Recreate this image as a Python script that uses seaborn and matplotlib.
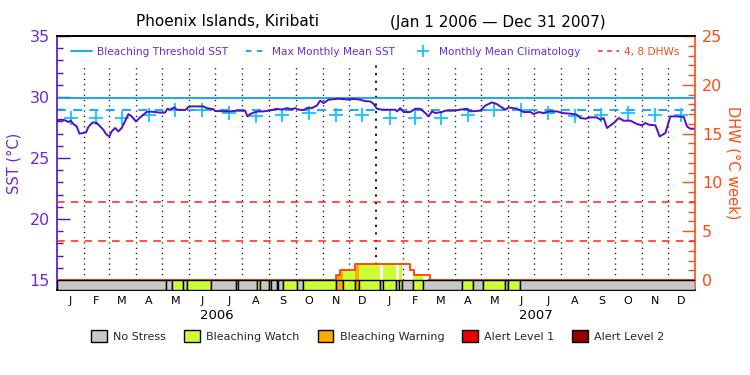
import numpy as np
import pandas as pd
import matplotlib
matplotlib.use("Agg")
import matplotlib.pyplot as plt
import seaborn as sns
from matplotlib.patches import Patch
from matplotlib.lines import Line2D
from matplotlib.ticker import FixedLocator

sns.set_style("white")
plt.rcParams["font.family"] = ["DejaVu Sans"]

# ---------------- data (days since 2006-01-01) ----------------
sst_day = [0, 5, 9, 13, 15.7, 18.7, 22.5, 25.6, 30, 33.2, 35.9, 40.8, 45.4, 49.2, 53, 56.1,
           59.9, 62.6, 66.4, 70.2, 74, 77.8, 81.7, 85.5, 90.4, 94.3, 98.8, 102.7, 108.4,
           117.9, 123.6, 126.3, 129.4, 134, 137, 146.6, 150.4, 154.2, 167.6, 171.4, 179,
           181, 198, 205.7, 215.2, 217.9, 221, 226.7, 230.5, 236.2, 242, 247.7, 251.5,
           257.2, 263, 268.7, 272.5, 276.3, 282, 285.8, 291.6, 297.3, 301.1, 305, 310.7,
           322.1, 331.6, 340, 346.9, 352.6, 358.4, 362.1, 366, 371.7, 387, 389, 392.7,
           396.5, 404.2, 409.9, 415.6, 421.4, 425.2, 429, 432.8, 440.4, 444.2, 453.8,
           461.4, 469, 472.9, 484.3, 490.1, 497.7, 503.4, 507.2, 513, 516.8, 526.3,
           533.9, 541.6, 545.4, 551.1, 556.8, 562.6, 572.1, 577.8, 587.4, 595, 598.8,
           604.5, 610.3, 617.9, 621.7, 625.5, 629.3, 637, 642.7, 648.4, 656.1, 663.7,
           669.4, 673.2, 677, 684.7, 689.6, 696.1, 701.8, 709.4, 717.1, 720.9, 724.7, 730]
sst_val = [28.1, 28.14, 28.1, 27.95, 28.06, 27.78, 27.6, 27.0, 27.05, 27.1, 27.55, 27.92,
           27.88, 27.6, 27.32, 26.96, 26.77, 27.18, 27.46, 27.18, 27.46, 28.0, 28.6, 28.41,
           28.0, 28.28, 28.55, 28.78, 28.8, 28.72, 28.72, 29.04, 28.96, 29.15, 28.96,
           28.93, 29.18, 29.23, 29.23, 29.09, 29.0, 28.85, 28.82, 28.88, 28.88, 28.41,
           28.6, 28.77, 28.82, 28.82, 28.88, 28.96, 29.04, 28.96, 29.09, 29.0, 29.09,
           28.96, 28.93, 29.09, 29.09, 29.3, 29.7, 29.5, 29.78, 29.86, 29.8, 29.84, 29.78,
           29.66, 29.64, 29.45, 29.04, 28.96, 28.96, 28.82, 29.09, 28.77, 28.77, 29.04,
           29.04, 28.69, 28.41, 28.82, 28.69, 28.77, 28.88, 28.88, 28.96, 29.04, 28.82,
           28.88, 29.3, 29.56, 29.42, 29.23, 28.96, 29.15, 29.04, 28.77, 28.77, 28.6,
           28.77, 28.69, 28.82, 28.82, 28.69, 28.63, 28.55, 28.28, 28.22, 28.33, 28.33,
           28.14, 28.28, 27.46, 27.87, 28.28, 28.06, 28.06, 27.78, 27.68, 27.87, 27.73,
           27.68, 26.77, 27.05, 28.41, 28.41, 28.36, 27.59, 27.4, 27.4]

clim_val = [28.28, 28.26, 28.24, 28.5, 28.9, 28.95, 28.72, 28.47, 28.56, 28.72, 28.5, 28.55,
            28.28, 28.26, 28.24, 28.5, 28.9, 28.95, 28.72, 28.47, 28.56, 28.72, 28.5, 28.55]

mmm_sst = 28.9
threshold_sst = 29.9
dhw_levels = [4, 8]

dhw_day = [0, 319.4, 324, 340.4, 404.2, 408, 426.3, 730]
dhw_val = [0, 0.55, 1.05, 1.6, 1.05, 0.55, 0, 0]

stress_start = [0, 125, 132, 144.6, 148.5, 176.3, 205, 207.2, 229.3, 232.4, 243, 245, 251.5,
                253.4, 258.4, 275.1, 281.3, 319.4, 327.8, 340.4, 345, 369.2, 372.9, 388.1,
                390.8, 394.7, 407.9, 418.7, 463.4, 475.5, 487.4, 512.1, 515.8, 529.3]
stress_end = stress_start[1:] + [730]
stress_level = [0, 0, 1, 0, 1, 0, 1, 0, 1, 0, 1, 0, 1, 0, 1, 0, 1, 2, 1, 2, 1, 0, 1, 0,
                1, 0, 1, 0, 1, 0, 1, 0, 1, 0]

month_letters = ["J", "F", "M", "A", "M", "J", "J", "A", "S", "O", "N", "D"] * 2
years = ["2006", "2007"]
stress_names = ["No Stress", "Bleaching Watch", "Bleaching Warning", "Alert Level 1", "Alert Level 2"]
stress_colors = ["#c8c8c8", "#ccff33", "#ffaa00", "#ee0000", "#960000"]

# ---------------- styling ----------------
PURPLE_LINE = "#5010c8"
PURPLE_TXT = "#6a2ad8"
ORANGE = "#ff4a10"
CYAN = "#0aa0f5"
CROSS = "#10c4ff"
RED = "#ff2020"

t0 = pd.Timestamp("2006-01-01")
mstart = pd.date_range("2006-01-01", "2008-01-01", freq="MS")
mday = np.array([(d - t0).days for d in mstart], dtype=float)
mmid = (mday[:-1] + mday[1:]) / 2.0

fig = plt.figure(figsize=(7.5, 3.75), dpi=100)
ax = fig.add_axes([57 / 750, 1 - 290 / 375, (695 - 57) / 750, (290 - 36) / 375])
ax2 = ax.twinx()

dlo = -1.02
ax.set_xlim(0, 730)
ax.set_ylim(15 + dlo / 1.25, 35)
ax2.set_ylim(dlo, 25)

# month dotted lines
for d in mday[1:-1]:
    if d == 365:
        ax.plot([d, d], [15, 32.6], color="black", lw=1.3, ls=(0, (1.2, 3.0)), zorder=1)
    else:
        ax.plot([d, d], [15, 32.6], color="black", lw=1.0, ls=(0, (0.8, 3.0)), zorder=1)

# reference lines
ax.axhline(threshold_sst, color=CYAN, lw=1.3, zorder=2)
ax.axhline(mmm_sst, color=CYAN, lw=1.3, ls=(0, (5, 4)), zorder=2)
for lv in dhw_levels:
    ax2.axhline(lv, color=RED, lw=1.1, ls=(0, (5, 4)), zorder=2)

# climatology crosses
sns.scatterplot(x=mmid, y=clim_val, ax=ax, marker="+", s=110, color=CROSS,
                linewidth=1.3, zorder=3, legend=False)
# SST line
sns.lineplot(x=sst_day, y=sst_val, ax=ax, color=PURPLE_LINE, lw=1.4, zorder=4,
             estimator=None, sort=False)

# DHW fill coloured by stress level
bps = sorted(set(dhw_day) | set(stress_start) | {730})
for a, b in zip(bps[:-1], bps[1:]):
    idx = np.searchsorted(dhw_day, a, side="right") - 1
    h = dhw_val[idx]
    sidx = np.searchsorted(stress_start, a, side="right") - 1
    lvl = stress_level[sidx]
    if h > 0 and lvl > 0:
        ax2.bar(a, h, width=b - a, bottom=0, align="edge", color=stress_colors[lvl],
                edgecolor="none", linewidth=0, zorder=2)
ax2.plot(dhw_day, dhw_val, drawstyle="steps-post", color=ORANGE, lw=1.4, zorder=3)

# stress bar
for s, e, l in zip(stress_start, stress_end, stress_level):
    ax2.bar(s, -dlo, width=e - s, bottom=dlo, align="edge", color=stress_colors[l],
            edgecolor="black", linewidth=1.0, zorder=5)

# spines
for a_ in (ax, ax2):
    a_.spines["top"].set_color("black")
    a_.spines["bottom"].set_color("black")
    a_.spines["left"].set_color(PURPLE_LINE)
    a_.spines["right"].set_color(ORANGE)
    for sp in a_.spines.values():
        sp.set_linewidth(1.2)
        sp.set_visible(True)
ax2.spines["left"].set_visible(False)
ax.spines["right"].set_visible(False)

# y ticks
ax.set_yticks([15, 20, 25, 30, 35])
ax.yaxis.set_minor_locator(FixedLocator(np.arange(15, 36, 1)))
ax.tick_params(axis="y", which="major", direction="in", length=9.5, width=1,
               color=PURPLE_LINE, labelcolor=PURPLE_TXT, labelsize=11.5, pad=5)
ax.tick_params(axis="y", which="minor", direction="in", length=4.3, width=1, color=PURPLE_LINE)
ax2.set_yticks([0, 5, 10, 15, 20, 25])
ax2.yaxis.set_minor_locator(FixedLocator(np.arange(0, 26, 1)))
ax2.tick_params(axis="y", which="major", direction="in", length=9.5, width=1,
                color=ORANGE, labelcolor=ORANGE, labelsize=11.5, pad=5)
ax2.tick_params(axis="y", which="minor", direction="in", length=4.8, width=1, color=ORANGE)

ax.set_ylabel("SST (°C)", color=PURPLE_TXT, fontsize=10.5, labelpad=6)
ax2.set_ylabel("DHW (°C week)", color=ORANGE, fontsize=10.5, rotation=-90, labelpad=13)

# x ticks: month letters
ax.set_xticks(mmid)
ax.set_xticklabels(month_letters)
ax.tick_params(axis="x", which="both", length=0, labelsize=8, pad=4, labelcolor="black")
ax.set_xlabel("")
for i, y in enumerate(years):
    ax.text(182.5 + 365 * i, -0.102, y, transform=ax.get_xaxis_transform(),
            ha="center", va="center", fontsize=9.5, color="black")

# title
fig.text(228 / 750, 1 - 22 / 375, "Phoenix Islands, Kiribati", ha="center", va="center",
         fontsize=11, color="black")
fig.text(498 / 750, 1 - 22 / 375, "(Jan 1 2006 \u2014 Dec 31 2007)", ha="center", va="center",
         fontsize=11, color="black")

# top legend
handles = [Line2D([], [], color=CYAN, lw=1.3),
           Line2D([], [], color=CYAN, lw=1.3, ls=(0, (3, 3))),
           Line2D([], [], color=CROSS, marker="+", ls="none", markersize=9, mew=1.3),
           Line2D([], [], color=RED, lw=1.1, ls=(0, (3, 3)))]
labels = ["Bleaching Threshold SST", "Max Monthly Mean SST", "Monthly Mean Climatology", "4, 8 DHWs"]
leg = ax2.legend(handles, labels, ncol=4, loc="center",
                 bbox_to_anchor=(375 / 750, 1 - 52 / 375), bbox_transform=fig.transFigure,
                 frameon=False, fontsize=7.6, handlelength=2.0, handletextpad=0.5,
                 columnspacing=1.65, borderpad=0)
for t, c in zip(leg.get_texts(), [PURPLE_TXT, PURPLE_TXT, PURPLE_TXT, ORANGE]):
    t.set_color(c)

# bottom legend
phandles = [Patch(facecolor=c, edgecolor="black", linewidth=1) for c in stress_colors]
fig.legend(phandles, stress_names, ncol=5, loc="center",
           bbox_to_anchor=(378 / 750, 1 - 336 / 375), frameon=False, fontsize=8,
           handlelength=1.4, handleheight=1.3, handletextpad=0.6, columnspacing=1.6,
           borderpad=0)

fig.savefig("out.png", dpi=100)
